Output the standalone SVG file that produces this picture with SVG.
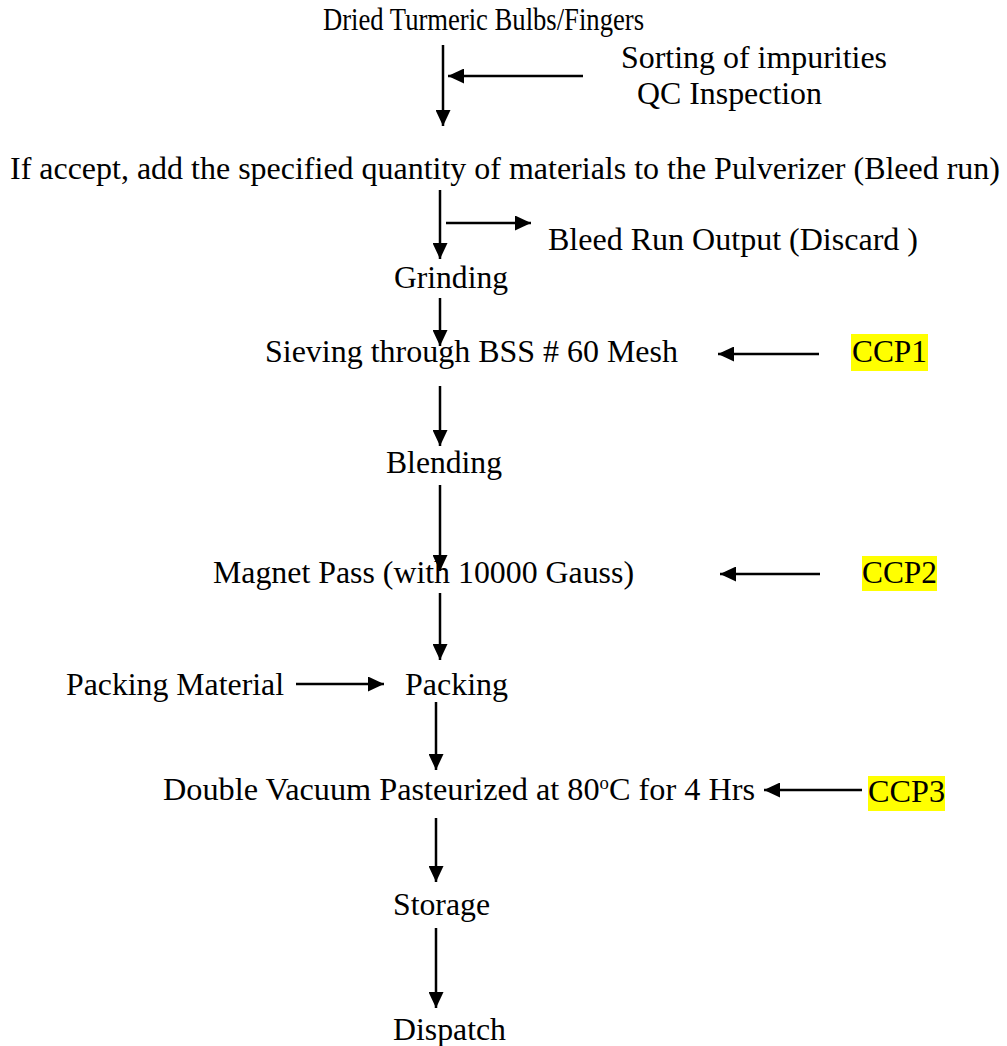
<svg xmlns="http://www.w3.org/2000/svg" width="1007" height="1046" viewBox="0 0 1007 1046">
<style>
text{font-family:"Liberation Serif","Times New Roman",serif;fill:#000;font-size:31px;}
.c{stroke:#000;stroke-width:2.5;fill:none;}
.hl{fill:#FFFF00;}
</style>
<defs>
<marker id="ah" markerUnits="userSpaceOnUse" markerWidth="16" markerHeight="15" refX="16" refY="7.5" orient="auto">
<path d="M0,0 L16,7.5 L0,15 Z" fill="#000"/>
</marker>
</defs>
<rect width="1007" height="1046" fill="#fff"/>
<g id="connectors">
<line class="c" x1="443" y1="45" x2="443" y2="126" marker-end="url(#ah)"/>
<line class="c" x1="583" y1="76" x2="448" y2="76" marker-end="url(#ah)"/>
<line class="c" x1="440" y1="190" x2="440" y2="259" marker-end="url(#ah)"/>
<line class="c" x1="446" y1="223" x2="531" y2="223" marker-end="url(#ah)"/>
<line class="c" x1="440" y1="298" x2="440" y2="346" marker-end="url(#ah)"/>
<line class="c" x1="819" y1="354" x2="718" y2="354" marker-end="url(#ah)"/>
<line class="c" x1="440" y1="386" x2="440" y2="446" marker-end="url(#ah)"/>
<line class="c" x1="440" y1="485" x2="440" y2="571" marker-end="url(#ah)"/>
<line class="c" x1="820" y1="574" x2="720" y2="574" marker-end="url(#ah)"/>
<line class="c" x1="440" y1="593" x2="440" y2="660" marker-end="url(#ah)"/>
<line class="c" x1="296" y1="684" x2="384" y2="684" marker-end="url(#ah)"/>
<line class="c" x1="436" y1="702" x2="436" y2="770" marker-end="url(#ah)"/>
<line class="c" x1="862" y1="790" x2="764" y2="790" marker-end="url(#ah)"/>
<line class="c" x1="436" y1="818" x2="436" y2="882" marker-end="url(#ah)"/>
<line class="c" x1="436" y1="928" x2="436" y2="1008" marker-end="url(#ah)"/>
</g>
<g id="n-dried"><text x="323" y="30" textLength="321" lengthAdjust="spacingAndGlyphs">Dried Turmeric Bulbs/Fingers</text></g>
<g id="n-sorting"><text x="621" y="68" textLength="266" lengthAdjust="spacingAndGlyphs">Sorting of impurities</text>
<text x="637" y="104" textLength="185" lengthAdjust="spacingAndGlyphs">QC Inspection</text></g>
<g id="n-accept"><text x="10" y="179" font-size="30" textLength="990" lengthAdjust="spacingAndGlyphs">If accept, add the specified quantity of materials to the Pulverizer (Bleed run)</text></g>
<g id="n-bleed"><text x="548" y="250" textLength="370" lengthAdjust="spacingAndGlyphs">Bleed Run Output (Discard )</text></g>
<g id="n-grinding"><text x="394" y="288" textLength="114" lengthAdjust="spacingAndGlyphs">Grinding</text></g>
<g id="n-sieving"><text x="265" y="362" textLength="413" lengthAdjust="spacingAndGlyphs">Sieving through BSS # 60 Mesh</text></g>
<g id="n-ccp1"><rect class="hl" x="851" y="334" width="77" height="37"/><text x="852" y="362" textLength="75" lengthAdjust="spacingAndGlyphs">CCP1</text></g>
<g id="n-blending"><text x="386" y="473" textLength="116" lengthAdjust="spacingAndGlyphs">Blending</text></g>
<g id="n-magnet"><text x="213" y="583" textLength="421" lengthAdjust="spacingAndGlyphs">Magnet Pass (with 10000 Gauss)</text></g>
<g id="n-ccp2"><rect class="hl" x="862" y="556" width="75" height="35"/><text x="862" y="583" textLength="75" lengthAdjust="spacingAndGlyphs">CCP2</text></g>
<g id="n-packmat"><text x="66" y="695" textLength="218" lengthAdjust="spacingAndGlyphs">Packing Material</text></g>
<g id="n-packing"><text x="405" y="695" textLength="103" lengthAdjust="spacingAndGlyphs">Packing</text></g>
<g id="n-pasteur"><text x="163" y="800" textLength="592" lengthAdjust="spacingAndGlyphs">Double Vacuum Pasteurized at 80<tspan font-size="18" dy="-11">o</tspan><tspan dy="11">C for 4 Hrs</tspan></text></g>
<g id="n-ccp3"><rect class="hl" x="868" y="776" width="77" height="35"/><text x="868" y="802" textLength="77" lengthAdjust="spacingAndGlyphs">CCP3</text></g>
<g id="n-storage"><text x="393" y="915" textLength="97" lengthAdjust="spacingAndGlyphs">Storage</text></g>
<g id="n-dispatch"><text x="393" y="1040" textLength="113" lengthAdjust="spacingAndGlyphs">Dispatch</text></g>
</svg>
